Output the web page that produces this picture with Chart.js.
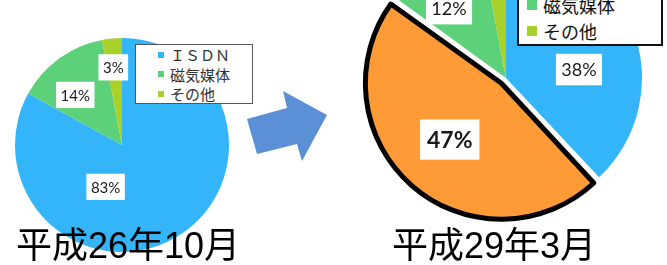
<!DOCTYPE html>
<html lang="ja">
<head>
<meta charset="utf-8">
<script src="https://cdn.jsdelivr.net/npm/chart.js@4.4.1/dist/chart.umd.min.js"></script>
<style>
    html, body { margin: 0; padding: 0; background: #fff; }
    body {
        width: 667px; height: 265px; position: relative; overflow: hidden;
        font-family: "Noto Sans CJK JP", "Noto Sans", sans-serif;
    }
    .wrap { position: absolute; top: 0; height: 265px; }
    #wrap1 { left: 0; width: 244px; }
    #wrap2 { left: 345px; width: 322px; }
    .legend { position: absolute; background: #fff; box-sizing: border-box; }
    .legend .row { display: flex; align-items: center; white-space: nowrap; }
    .legend .sq { display: inline-block; flex: none; }
    #legend1 {
        left: 135px; top: 44px; width: 118px; height: 60px;
        border: 1px solid #555; padding-left: 22px; color: #333; font-size: 15px;
    }
    #legend1 .row { height: 19.5px; }
    #legend1 .sq { width: 6px; height: 6px; margin-right: 6px; }
    #legend2 {
        left: 517px; top: -62px; width: 146px;
        border: 2px solid #111; padding-left: 8px; color: #111; font-size: 18px;
    }
    #legend2 .row { height: 26px; }
    #legend2 .sq { width: 10px; height: 10px; margin-right: 6px; }
    .title {
        position: absolute; top: 227px; font-size: 36px; line-height: 38px;
        font-family: "Liberation Sans", "Noto Sans CJK JP", sans-serif;
        color: #000; white-space: nowrap; border-bottom: 1px solid #e4e4e4;
    }
    #title1 { left: 16px; }
    #title2 { left: 392px; }
    #arrow { position: absolute; left: 0; top: 0; }
</style>
</head>
<body>
<div class="wrap" id="wrap1"><canvas id="chart1"></canvas></div>
<div class="wrap" id="wrap2"><canvas id="chart2"></canvas></div>
<svg id="arrow" width="667" height="265">
    <polygon points="247,119 287,108 283,91 327,115 302,161 297,144 257,154" fill="#5B8FD6"/>
</svg>
<div class="legend" id="legend1"></div>
<div class="legend" id="legend2"></div>
<div class="title" id="title1"></div>
<div class="title" id="title2"></div>
<script>
// 平成26年10月
const categories1 = ['ＩＳＤＮ', '磁気媒体', 'その他'];
const values1 = [83, 14, 3];
const colors1 = ['#35B5F9', '#5CD17A', '#A9D12B'];
const title1 = '平成26年10月';

// 平成29年3月
const categories2 = ['ＩＳＤＮ', 'インターネット', '磁気媒体', 'その他'];
const values2 = [38, 47, 12, 3];
const colors2 = ['#35B5F9', '#FF9B37', '#5CD17A', '#A9D12B'];
const title2 = '平成29年3月';

document.addEventListener('DOMContentLoaded', () => {
    document.getElementById('title1').textContent = title1;
    document.getElementById('title2').textContent = title2;
    const c1 = firstChart();
    const c2 = secondChart();
    buildLegend(c1, 'legend1');
    buildLegend(c2, 'legend2');
});

// Chart.js grows an offset slice's radius too; keep it the same size as the others
const keepRadius = {
    id: 'keepRadius',
    afterDatasetUpdate(chart) {
        chart.getDatasetMeta(0).data.forEach(arc => {
            const o = (arc.options.offset || 0) / 4;
            const fix = 1 - Math.sin(Math.min(Math.PI, arc.circumference || 0));
            arc.outerRadius -= o * fix;
        });
    }
};

// white boxes with the percentage, placed along each slice
const boxLabels = {
    id: 'boxLabels',
    afterDatasetsDraw(chart, args, opts) {
        const ctx = chart.ctx;
        const meta = chart.getDatasetMeta(0);
        const values = chart.data.datasets[0].data;
        ctx.save();
        meta.data.forEach((arc, i) => {
            const mid = (arc.startAngle + arc.endAngle) / 2 + (opts.turn[i] || 0) * Math.PI / 180;
            const r = arc.outerRadius * opts.radius[i];
            const x = arc.x + Math.cos(mid) * r;
            const y = arc.y + Math.sin(mid) * r;
            const big = i === opts.bigIndex;
            const size = big ? opts.bigSize : opts.size;
            ctx.font = (big ? 'bold ' : '') + size + 'px Lato, "Noto Sans", sans-serif';
            const text = values[i] + '%';
            const w = ctx.measureText(text).width + size * 0.6;
            const h = size * 1.75;
            ctx.fillStyle = '#fff';
            ctx.fillRect(x - w / 2, y - h / 2, w, h);
            ctx.fillStyle = '#1a1a1a';
            ctx.textAlign = 'center';
            ctx.textBaseline = 'middle';
            ctx.fillText(text, x, y + 1);
        });
        ctx.restore();
    }
};

function buildLegend(chart, id) {
    const el = document.getElementById(id);
    const ds = chart.data.datasets[0];
    chart.data.labels.forEach((label, i) => {
        const row = document.createElement('div');
        row.className = 'row';
        const sq = document.createElement('span');
        sq.className = 'sq';
        sq.style.background = ds.backgroundColor[i];
        row.appendChild(sq);
        row.appendChild(document.createTextNode(label));
        el.appendChild(row);
    });
}

function firstChart() {
    const ctx = document.getElementById('chart1');
    return new Chart(ctx, {
        type: 'pie',
        data: {
            labels: categories1,
            datasets: [{
                data: values1,
                backgroundColor: colors1,
                borderWidth: 0,
                radius: 107,
                clip: false
            }]
        },
        options: {
            responsive: true,
            maintainAspectRatio: false,
            animation: false,
            events: [],
            layout: { padding: { top: 25 } },
            plugins: {
                legend: { display: false },
                tooltip: { enabled: false },
                boxLabels: { radius: [0.42, 0.64, 0.73], turn: [52, -7, -1], size: 15, bigIndex: -1 }
            }
        },
        plugins: [boxLabels]
    });
}

function secondChart() {
    const ctx = document.getElementById('chart2');
    return new Chart(ctx, {
        type: 'pie',
        data: {
            labels: categories2,
            datasets: [{
                data: values2,
                backgroundColor: colors2,
                borderColor: '#000',
                borderWidth: [0, 5, 0, 0],
                borderJoinStyle: 'round',
                // arc offset is divided by 4 when drawn -> about 7px
                offset: [0, 28, 0, 0],
                radius: 136,
                clip: false
            }]
        },
        options: {
            responsive: true,
            maintainAspectRatio: false,
            animation: false,
            events: [],
            layout: { padding: { bottom: 109 } },
            plugins: {
                legend: { display: false },
                tooltip: { enabled: false },
                boxLabels: { radius: [0.54, 0.64, 0.66, 0.7], turn: [15, 1, -7, 0], size: 18, bigIndex: 1, bigSize: 23 }
            }
        },
        plugins: [keepRadius, boxLabels]
    });
}
</script>
</body>
</html>
